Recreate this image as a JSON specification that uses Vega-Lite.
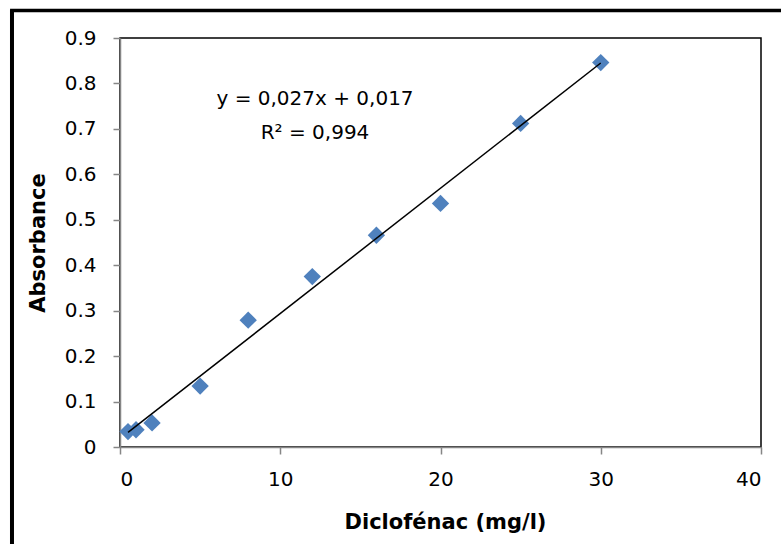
{
  "$schema": "https://vega.github.io/schema/vega-lite/v6.json",
  "autosize": "none",
  "width": 641,
  "height": 409,
  "padding": {"left": 120, "top": 38, "right": 20, "bottom": 97},
  "background": "white",
  "config": {
    "view": {"stroke": "black", "strokeWidth": 1.5},
    "font": "DejaVu Sans"
  },
  "datasets": {
    "points": [
      {"conc": 0.5, "abs": 0.034},
      {"conc": 1, "abs": 0.038},
      {"conc": 2, "abs": 0.053},
      {"conc": 5, "abs": 0.134},
      {"conc": 8, "abs": 0.279},
      {"conc": 12, "abs": 0.375},
      {"conc": 16, "abs": 0.466},
      {"conc": 20, "abs": 0.536},
      {"conc": 25, "abs": 0.712},
      {"conc": 30, "abs": 0.846}
    ],
    "trend": [
      {"conc": 0.5, "abs": 0.032},
      {"conc": 30, "abs": 0.845}
    ]
  },
  "layer": [
    {
      "data": {"name": "points"},
      "mark": {"type": "point", "shape": "diamond", "filled": true, "size": 300, "color": "#4F81BD", "opacity": 1},
      "encoding": {
        "x": {
          "field": "conc", "type": "quantitative",
          "scale": {"domain": [0, 40], "nice": false, "zero": false},
          "axis": {
            "title": "Diclofénac (mg/l)",
            "values": [0, 10, 20, 30, 40],
            "grid": false,
            "domainColor": "#868686", "domainWidth": 1.5,
            "tickColor": "#868686", "tickWidth": 1.5, "tickSize": 7,
            "labelFontSize": 20, "labelColor": "black", "labelPadding": 15, "labelFont": "DejaVu Sans",
            "titleFontSize": 21, "titleFontWeight": "bold", "titleColor": "black", "titleFont": "DejaVu Sans",
            "titleX": 325, "titleY": 75, "titleBaseline": "middle", "titleAlign": "center", "titleAnchor": null
          }
        },
        "y": {
          "field": "abs", "type": "quantitative",
          "scale": {"domain": [0, 0.9], "nice": false, "zero": false},
          "axis": {
            "title": "Absorbance",
            "values": [0, 0.1, 0.2, 0.3, 0.4, 0.5, 0.6, 0.7, 0.8, 0.9],
            "format": ".1~f",
            "grid": false,
            "domainColor": "#868686", "domainWidth": 1.5,
            "tickColor": "#868686", "tickWidth": 1.5, "tickSize": 7,
            "labelFontSize": 20, "labelColor": "black", "labelPadding": 17, "labelFont": "DejaVu Sans",
            "titleFontSize": 21, "titleFontWeight": "bold", "titleColor": "black", "titleFont": "DejaVu Sans",
            "titleX": -82, "titleY": 204.5, "titleAngle": -90, "titleBaseline": "middle", "titleAlign": "center", "titleAnchor": null
          }
        }
      }
    },
    {
      "data": {"name": "trend"},
      "mark": {"type": "line", "color": "black", "strokeWidth": 1.5},
      "encoding": {
        "x": {"field": "conc", "type": "quantitative"},
        "y": {"field": "abs", "type": "quantitative"}
      }
    },
    {
      "data": {"values": [{"label": "y = 0,027x + 0,017"}]},
      "mark": {"type": "text", "fontSize": 20, "font": "DejaVu Sans", "color": "black", "align": "center", "baseline": "middle"},
      "encoding": {
        "x": {"datum": 12.17},
        "y": {"datum": 0.766},
        "text": {"field": "label"}
      }
    },
    {
      "data": {"values": [{"label": "R² = 0,994"}]},
      "mark": {"type": "text", "fontSize": 20, "font": "DejaVu Sans", "color": "black", "align": "center", "baseline": "middle"},
      "encoding": {
        "x": {"datum": 12.17},
        "y": {"datum": 0.691},
        "text": {"field": "label"}
      }
    },
    {
      "data": {"values": [{"edge": "left"}]},
      "mark": {"type": "rule", "color": "black", "strokeWidth": 4, "clip": false},
      "encoding": {
        "x": {"datum": -6.74},
        "y": {"datum": 0.962},
        "y2": {"datum": -0.3}
      }
    },
    {
      "data": {"values": [{"edge": "top"}]},
      "mark": {"type": "rule", "color": "black", "strokeWidth": 3.5, "clip": false},
      "encoding": {
        "x": {"datum": -6.86},
        "x2": {"datum": 42},
        "y": {"datum": 0.9605}
      }
    }
  ]
}
